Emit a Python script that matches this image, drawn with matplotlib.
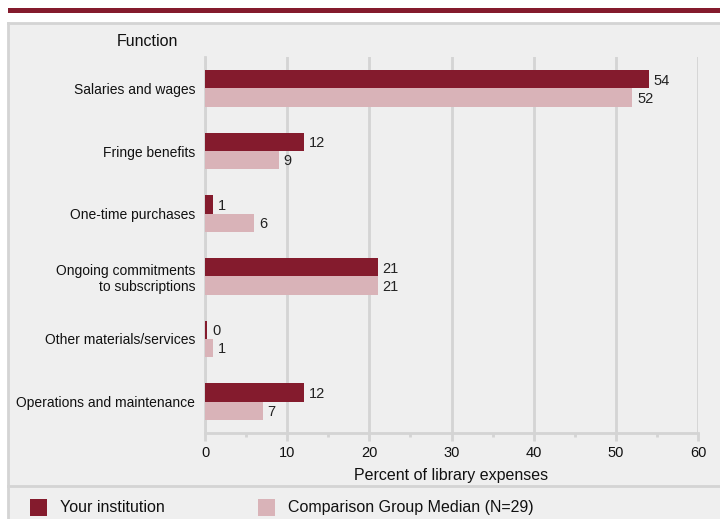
import matplotlib
matplotlib.use("Agg")
import matplotlib.pyplot as plt
from matplotlib.patches import Rectangle
from matplotlib.lines import Line2D
import numpy as np

categories = ["Salaries and wages", "Fringe benefits", "One-time purchases",
              "Ongoing commitments\nto subscriptions", "Other materials/services",
              "Operations and maintenance"]
your_institution = [54, 12, 1, 21, 0.3, 12]
your_labels = ["54", "12", "1", "21", "0", "12"]
comparison = [52, 9, 6, 21, 1, 7]
comparison_labels = ["52", "9", "6", "21", "1", "7"]
xticks = [0, 10, 20, 30, 40, 50, 60]
series_names = ["Your institution", "Comparison Group Median (N=29)"]

DARK = "#841b2d"
PINK = "#d9b3b8"
BG = "#efefef"
GRID = "#d4d4d4"
FONT = "Liberation Sans"

W, H = 720, 519
fig = plt.figure(figsize=(W / 100, H / 100), dpi=100)
fig.patch.set_facecolor("white")

def fx(px):
    return px / W

def fy(py):
    return 1 - py / H

# top red band
fig.patches.append(Rectangle((fx(8), fy(13)), fx(720 - 8), 5 / H, transform=fig.transFigure,
                             facecolor=DARK, edgecolor="none", zorder=-10))
# panel background
fig.patches.append(Rectangle((fx(8), fy(519)), fx(720 - 8), (519 - 23) / H, transform=fig.transFigure,
                             facecolor=BG, edgecolor="none", zorder=-10))
# panel borders
for (x0, y0, x1, y1) in [(8, 23, 720, 23), (8, 23, 8, 519), (8, 486, 720, 486)]:
    fig.lines.append(Line2D([fx(x0), fx(x1)], [fy(y0), fy(y1)], transform=fig.transFigure,
                            color=GRID, lw=2, zorder=-5))

ax = fig.add_axes([fx(205), fy(433), fx(698 - 205), (433 - 57) / H])
ax.set_zorder(5)
ax.set_facecolor("none")
n = len(categories)
y = np.arange(n)
bh = 0.29
ax.barh(y - bh / 2, your_institution, height=bh, color=DARK, zorder=3)
ax.barh(y + bh / 2, comparison, height=bh, color=PINK, zorder=3)
for yi, v, lab in zip(y, your_institution, your_labels):
    ax.annotate(lab, (v, yi - bh / 2), xytext=(3.5, -1), textcoords="offset points",
                va="center", ha="left", fontsize=10.5, color="#222222", family=FONT)
for yi, v, lab in zip(y, comparison, comparison_labels):
    ax.annotate(lab, (v, yi + bh / 2), xytext=(3.5, -1), textcoords="offset points",
                va="center", ha="left", fontsize=10.5, color="#222222", family=FONT)

ax.set_ylim(n - 0.5, -0.5)
ax.set_xlim(0, 60)
ax.set_yticks(y)
ax.set_yticklabels(categories, fontsize=10, family=FONT, color="#111111")
ax.tick_params(axis="y", length=0, pad=7)
ax.set_xticks(xticks)
ax.set_xticks([5, 15, 25, 35, 45, 55], minor=True)
ax.set_xticklabels([str(t) for t in xticks], fontsize=10.5, family=FONT, color="#111111")
ax.tick_params(axis="x", which="major", length=6, width=2, color=GRID, pad=3.5)
ax.tick_params(axis="x", which="minor", length=3, width=2, color=GRID)
ax.grid(axis="x", color=GRID, lw=2, zorder=0)
for s in ["top", "right"]:
    ax.spines[s].set_visible(False)
ax.spines["left"].set_color(GRID)
ax.spines["left"].set_linewidth(2)
ax.spines["bottom"].set_color(GRID)
ax.spines["bottom"].set_linewidth(2)
ax.set_xlabel("Percent of library expenses", fontsize=11.5, family=FONT,
              color="#111111", labelpad=5.5)

fig.text(fx(117), fy(42), "Function", fontsize=11.5, family=FONT,
         va="center", ha="left", color="#111111")

# legend
for x0, col, name in [(30, DARK, series_names[0]), (258, PINK, series_names[1])]:
    fig.patches.append(Rectangle((fx(x0), fy(516)), fx(17), 17 / H, transform=fig.transFigure,
                                 facecolor=col, edgecolor="none", zorder=-4))
    fig.text(fx(x0 + 30), fy(507.5), name, fontsize=11.5, family=FONT,
             va="center", ha="left", color="#111111")

fig.savefig("out.png", dpi=100, facecolor="white")
